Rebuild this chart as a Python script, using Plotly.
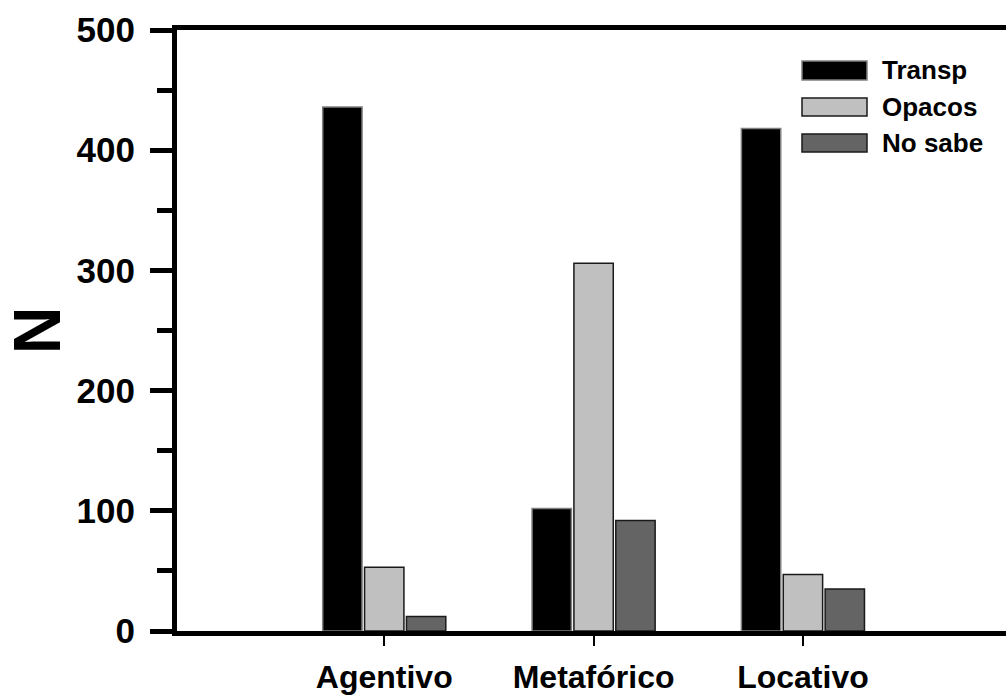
import plotly.graph_objects as go

categories = ["Agentivo", "Metafórico", "Locativo"]
transp = [436, 102, 418]
opacos = [53, 306, 47]
no_sabe = [12, 92, 35]
series_names = ["Transp", "Opacos", "No sabe"]
y_ticks = [0, 100, 200, 300, 400, 500]

colors = ["#000000", "#c0c0c0", "#646464"]
edge = ["#808080", "#1a1a1a", "#1a1a1a"]
FONT = "Liberation Sans, Arial, sans-serif"

W, H = 1006, 695
ML, MR, MT, MB = 177, 0, 30, 64

fig = go.Figure()
for name, vals, c, e in zip(series_names, [transp, opacos, no_sabe], colors, edge):
    fig.add_trace(go.Bar(
        x=list(range(len(categories))), y=vals, name=name,
        marker=dict(color=c, line=dict(color=e, width=1.5)),
        showlegend=False,
    ))

pw = W - ML - MR
ph = H - MT - MB

def px(xp):
    return (xp - ML) / pw

def py(yp):
    return (H - MB - yp) / ph

# custom legend (wide swatches)
leg_rows = [(61, 80, 70), (98, 116, 107), (134, 152, 143)]
for (y0, y1, yc), name, c, e in zip(leg_rows, series_names, colors, edge):
    fig.add_shape(type="rect", xref="paper", yref="paper",
                  x0=px(802), x1=px(867), y0=py(y1), y1=py(y0),
                  fillcolor=c, line=dict(color=e, width=1.5))
    fig.add_annotation(xref="paper", yref="paper", x=px(880), y=py(yc),
                       text=name, showarrow=False, xanchor="left", yanchor="middle",
                       font=dict(family=FONT, size=26, color="black", weight="bold"))

fig.update_layout(
    template="none",
    width=W, height=H,
    margin=dict(l=ML, r=MR, t=MT, b=MB, pad=0),
    plot_bgcolor="white", paper_bgcolor="white",
    barmode="group", bargap=0.4, bargroupgap=0.06,
    font=dict(family=FONT, color="black"),
)
fig.update_xaxes(
    automargin=False,
    range=[-0.99, 2.97],
    tickmode="array", tickvals=list(range(len(categories))), ticktext=categories,
    ticks="outside", ticklen=10, tickwidth=1.5, tickcolor="black",
    tickfont=dict(family=FONT, size=32, color="black", weight="bold"),
    ticklabelstandoff=4,
    showline=True, linecolor="black", linewidth=5, mirror=True,
    showgrid=False, zeroline=False,
)
fig.update_yaxes(
    automargin=False,
    range=[0, 500],
    tickmode="array", tickvals=y_ticks,
    ticks="outside", ticklen=22, tickwidth=5, tickcolor="black",
    minor=dict(dtick=50, ticks="outside", ticklen=15, tickwidth=5, tickcolor="black", showgrid=False),
    tickfont=dict(family=FONT, size=35, color="black", weight="bold"),
    ticklabelstandoff=8,
    showline=True, linecolor="black", linewidth=5,
    showgrid=False, zeroline=False,
    title=dict(text="N", font=dict(family=FONT, size=66, color="black", weight="bold"), standoff=10),
)

fig.write_html("out.html", config={"displayModeBar": False},
               post_script="document.body.style.margin='0';document.body.style.overflow='hidden';")
